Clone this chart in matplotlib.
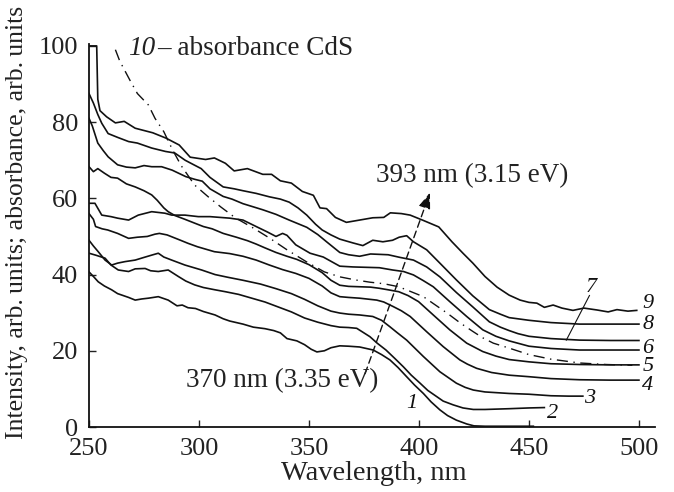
import matplotlib
matplotlib.use('Agg')
import matplotlib.pyplot as plt

plt.rcParams['font.family'] = ['Liberation Serif', 'DejaVu Serif']

# curves, (wavelength nm, intensity) pairs
c1_x = [250, 252, 254.2, 257, 260.3, 263, 265, 268, 271, 274, 277, 281.5, 286, 290, 292.4, 295, 298.4, 302, 307.3, 311, 314, 320, 324.7, 330, 334, 337, 340, 344.5, 348, 351, 353.6, 357, 360, 364, 368, 373, 379.2, 383, 386.8, 390.5, 394.4, 398, 402, 405.5, 409.5, 413, 417, 421.7, 425, 430, 452]
c1_y = [40.7, 39.5, 38.1, 37, 36, 35, 34.6, 34, 33.3, 33.6, 33.8, 34.2, 33.3, 31.8, 32, 31.3, 31.1, 30.3, 29.4, 28.4, 27.8, 27, 26.2, 25.8, 25.3, 24.7, 23.2, 22.6, 21.6, 20.4, 19.7, 20, 20.8, 21.3, 21.2, 21, 20.2, 19, 17.6, 15.6, 13.2, 11, 8.8, 6.6, 4.5, 3, 1.8, 0.8, 0.3, 0.2, 0.2]

c2_x = [250, 253, 257.3, 260, 263.3, 268, 271, 275.5, 278, 281.5, 286, 290.6, 294, 298, 302, 307.3, 312, 318, 324, 330, 336, 342, 348, 354, 360, 364, 368, 371.7, 377.7, 381, 385, 389, 392.9, 396.5, 400.5, 404, 408, 411, 415.6, 420, 424.7, 430, 441, 450, 457]
c2_y = [45.6, 45.1, 44.3, 42.5, 41.2, 40.8, 41.5, 41.6, 41, 40.8, 41.2, 39.5, 38.3, 37.3, 36.6, 36, 35.5, 34.8, 33.8, 32.8, 31.5, 30.2, 28.6, 27.5, 26.6, 26.2, 26.1, 25.9, 23.7, 22, 20.2, 18, 15.8, 13.6, 11.5, 9.6, 8, 6.8, 5.8, 5, 4.6, 4.6, 4.8, 5, 5.1]

c3_x = [250, 252, 254.2, 257.3, 260.3, 263, 266.4, 271, 275, 278.5, 281.5, 284, 287.6, 293.6, 301.2, 307.3, 313, 320, 328, 335, 342, 348, 354, 360, 364, 368, 373, 379, 383, 386.8, 390, 394.4, 402, 409.5, 417, 421, 424.7, 430, 441, 450, 460, 468, 474.5]
c3_y = [49, 47.5, 46, 43.8, 42.5, 43, 43.4, 43.8, 44.5, 45.1, 45.6, 44.6, 43.8, 42.5, 41.2, 40, 39.3, 38.5, 37.5, 36.3, 35, 33.5, 31.8, 30.4, 29.9, 29.6, 29.4, 29, 28, 26.3, 24.8, 22.8, 18.5, 14.5, 11.5, 10.4, 9.7, 9.2, 8.8, 8.6, 8.2, 8.1, 8.1]

c4_x = [250, 252, 253, 256, 258.5, 263, 268, 272, 276.5, 280, 282, 285.5, 291.6, 295, 299.3, 307, 314, 320, 326, 332, 338, 344, 350, 356, 360, 364, 368, 373, 380.8, 384, 388.3, 392, 396, 403.5, 411, 418.6, 422, 426.2, 433, 441, 450, 460, 473, 487, 500]
c4_y = [56, 54.5, 52.6, 52, 51.7, 50.8, 49.5, 49.8, 50, 50.6, 50.8, 50.4, 49, 48.2, 47.3, 46, 45.5, 44.8, 43.8, 42.5, 41.3, 40.3, 39, 37, 35.2, 34.2, 34, 33.8, 33.3, 32.8, 31.6, 30.5, 29, 25, 21.1, 17.6, 16.5, 15.4, 14.3, 13.6, 13.2, 12.7, 12.4, 12.3, 12.3]

c5_x = [250, 252, 254, 257, 260, 263, 267, 271, 275, 278.5, 281, 284, 286, 289, 293.6, 298, 302, 306, 311, 317, 322, 326, 330, 335, 340, 344.4, 350, 356, 360, 364, 368, 373, 378, 382, 386, 390.8, 395, 399.8, 406.5, 414, 421.7, 429, 435, 441, 450, 460, 473, 487, 500]
c5_y = [68.3, 67, 67.8, 66.6, 65.5, 65.3, 63.8, 63, 62, 60.9, 59.5, 57.5, 56.5, 55.5, 54.5, 53.5, 52.6, 52, 50.8, 49.8, 48.9, 48, 47, 45.8, 44.8, 44, 42.6, 40.5, 38.5, 37.2, 36.9, 36.8, 36.7, 36.4, 36, 35.5, 34.5, 32.9, 29.4, 25.5, 22, 19.8, 18.6, 17.7, 17.1, 16.6, 16.4, 16.3, 16.3]

c6_x = [250, 252.7, 255.8, 260, 263, 268, 272.4, 278.5, 284.5, 287.6, 293.6, 299.7, 305, 314, 320, 326, 331, 335, 338, 340, 344, 350.5, 356.5, 364, 370, 376, 382, 388, 393, 397.5, 402, 406.5, 414, 421.7, 429, 435, 441, 450, 460, 473, 487, 500]
c6_y = [58.7, 58.7, 55.6, 55.2, 54.8, 54.3, 55.6, 56.5, 56.1, 55.6, 55.6, 55.2, 55.2, 54.8, 54.3, 52.6, 51.2, 50, 50.8, 50.3, 47.8, 45.6, 44.6, 42.2, 42, 41.9, 41.8, 41.2, 40.8, 39.9, 38.4, 36.8, 32.9, 29, 25.5, 23.8, 22.6, 21.2, 20.6, 20.2, 20.2, 20.2]

c7_x = [250, 251.5, 254, 256.5, 258.7, 263, 267, 271, 275, 278.5, 283, 287.8, 294, 298, 301.5, 305, 311, 315, 320, 329, 335, 341, 349, 354, 358, 364, 368, 373, 378, 382, 386, 391.4, 397.5, 403.5, 409.5, 417, 424.5, 432, 437, 441, 445, 450, 460, 473, 487, 500]
c7_y = [81, 79, 74.5, 72.5, 70.9, 68.8, 68.2, 68, 68.6, 68.3, 68.3, 67.4, 65.7, 65, 64.5, 62.5, 60.5, 59.8, 58.6, 57, 55.8, 54.3, 52.4, 50.5, 48.6, 45.8, 45.2, 44.8, 45.4, 45.3, 45.2, 44.5, 43.8, 42, 39.4, 35.3, 31.5, 27.6, 26.2, 25.3, 24.5, 23.8, 23.2, 22.8, 22.7, 22.7]

c8_x = [250, 252, 254, 255.8, 258.7, 263, 268, 272, 278.5, 284.8, 289, 293.7, 297, 301, 305, 311, 316, 320, 326, 332, 337, 341, 345, 349, 353, 356, 360, 364, 370, 374.5, 379, 383.6, 388, 391, 394.4, 397.5, 403.5, 409.5, 417, 424.5, 432, 437, 441, 450, 460, 473, 485, 500]
c8_y = [87.5, 85, 82, 79.7, 77, 76, 74.9, 74.5, 73.2, 72.3, 71.9, 70, 69, 67.8, 65.5, 63, 62.5, 62, 61.3, 60.4, 59.8, 59, 57.5, 55.6, 53.2, 51.7, 50.4, 49.3, 48.3, 47.6, 49, 48.6, 49, 49.8, 50.2, 48.6, 46.5, 43, 38.6, 34.4, 30.8, 29.6, 28.7, 28, 27.4, 27, 27, 27]

c9_x = [250, 253.5, 254, 255, 258, 262, 266, 271, 275, 279, 285, 291, 296, 303, 307, 312, 316, 322, 329, 333, 337, 342, 347, 352, 355, 358, 362, 367, 373, 379, 384, 387, 392, 396, 402, 409, 415, 420, 424.5, 430, 435.5, 441, 446, 450, 453.6, 457, 461, 465, 470, 475, 481, 486, 490, 495, 499]
c9_y = [100, 100, 86, 83, 81.4, 79.8, 80.2, 78.4, 77.8, 77.2, 75.8, 74, 70.8, 70.2, 70.6, 69.2, 67.2, 67.8, 66.3, 66.3, 64.6, 64, 61.8, 60.8, 57.5, 57.3, 55, 53.7, 54.3, 54.9, 55, 56.2, 56, 55.6, 54.2, 52.5, 48.6, 45.6, 43, 39.5, 36.7, 34.6, 33.3, 32.7, 32.5, 31.4, 32, 31.2, 30.6, 31.2, 30.7, 30.2, 30.8, 30.4, 30.6]

# curve 10, absorbance of CdS (dash-dot)
c10_x = [262, 264, 268.6, 272, 277, 280, 284, 288, 292, 298, 304, 310, 316.5, 324.7, 332, 340, 349, 357, 364, 371, 377.7, 384, 390.8, 396, 402, 407, 413, 419, 424.7, 429, 433.8, 441, 450, 460, 473, 485, 497]
c10_y = [99, 96, 91, 87.5, 84.5, 81, 77.5, 72.7, 68.5, 63.5, 60.5, 57.7, 54.9, 52.2, 49.6, 46.5, 43.3, 40.7, 39.4, 38.6, 38, 37.6, 36.8, 35.6, 34.2, 32.2, 29.8, 27.2, 25, 23.4, 22, 20.7, 19, 17.8, 16.8, 16.4, 16.2]

curve_labels = ['1', '2', '3', '4', '5', '6', '7', '8', '9']
label_x = [396.9, 460.5, 477.7, 504, 504, 504, 478.5, 504, 504]
label_y = [6.2, 3.6, 7.5, 11.0, 15.8, 20.6, 36.6, 26.8, 32.5]

curves = [(c1_x, c1_y), (c2_x, c2_y), (c3_x, c3_y), (c4_x, c4_y), (c5_x, c5_y),
          (c6_x, c6_y), (c7_x, c7_y), (c8_x, c8_y), (c9_x, c9_y)]

fig = plt.figure(figsize=(6.74, 4.92), dpi=100)
ax = fig.add_axes([89/674, 1-427/492, 566/674, 383/492])

for xs, ys in curves:
    ax.plot(xs, ys, color='#111111', lw=1.2)
ax.plot(c10_x, c10_y, color='#111111', lw=1.0, linestyle=(0, (8, 4, 1, 4)))

for t, x, y in zip(curve_labels, label_x, label_y):
    ax.text(x, y, t, fontsize=16, style='italic', ha='center', va='center', color='#111111')
# leader for curve 7
ax.plot([467, 477.5], [22.8, 34.5], color='#111111', lw=0.8)

# shift of the band edge
ax.annotate('', xy=(405, 61.5), xytext=(375.5, 14),
            arrowprops=dict(arrowstyle='-|>,head_length=0.6,head_width=0.22', color='#111111',
                            lw=1.0, linestyle=(0, (5, 3)), mutation_scale=16, shrinkA=0, shrinkB=0))
ax.text(381.4, 12.3, '370 nm (3.35 eV)', fontsize=19.5, ha='right', va='center', color='#222222')
ax.text(380.5, 65.9, '393 nm (3.15 eV)', fontsize=19.5, ha='left', va='center', color='#222222')
ax.text(267.9, 99.4, '10', fontsize=19.5, style='italic', ha='left', va='center', color='#222222')
ax.text(280.9, 99.4, '\u2013 absorbance CdS', fontsize=19.5, ha='left', va='center', color='#222222')

ax.set_xlim(250, 507.3)
ax.set_ylim(0, 100.5)
ax.set_xticks([250, 300, 350, 400, 450, 500])
ax.set_yticks([0, 20, 40, 60, 80, 100])
ax.tick_params(direction='in', length=5, width=1, labelsize=19, colors='#222222')
ax.tick_params(axis='x', pad=8)
ax.tick_params(axis='y', pad=8)
for s in ['top', 'right']:
    ax.spines[s].set_visible(False)
for s in ['left', 'bottom']:
    ax.spines[s].set_linewidth(1.3)
    ax.spines[s].set_color('#111111')

ax.set_xlabel('Wavelength, nm', fontsize=20.5, color='#222222')
ax.xaxis.set_label_coords((374 - 89) / 566, -(473 - 427) / 383)
ax.set_ylabel('Intensity, arb.\u2009units; absorbance, arb.\u2009units', fontsize=18.5, color='#222222')
ax.yaxis.set_label_coords((17 - 89) / 566, (427 - 222) / 383)
ax.xaxis.label.set_va('center')
ax.yaxis.label.set_va('center')

plt.savefig('out.png', dpi=100)
